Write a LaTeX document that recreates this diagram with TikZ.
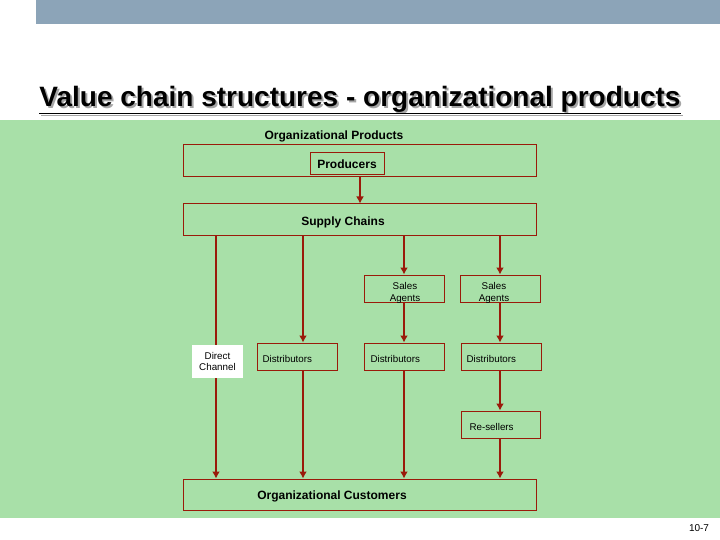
\documentclass[tikz,border=0pt]{standalone}
\usepackage{fontspec}
\usetikzlibrary{arrows.meta}
\setmainfont{Liberation Sans}
\definecolor{bg}{HTML}{A8E0A8}
\definecolor{dr}{HTML}{9A1A0A}
\definecolor{bar}{HTML}{8CA4B8}
\begin{document}
\begin{tikzpicture}[x=1pt,y=-1pt,
  bx/.style={draw=dr,line width=1pt,inner sep=0pt},
  ar/.style={draw=dr,line width=2.2pt,-{Latex[length=7pt,width=8pt]}},
  bl/.style={font=\bfseries\fontsize{12}{14}\selectfont},
  sm/.style={font=\fontsize{9.8}{11.5}\selectfont,align=center}]
\useasboundingbox (0,0) rectangle (720,540);
\fill[white] (0,0) rectangle (720,540);
\fill[bar] (36,0) rectangle (720,24);
\fill[bg] (0,120) rectangle (720,518);
\node[text=gray!70,font=\bfseries\fontsize{28}{32}\selectfont] at (362,102) {\underline{Value chain structures - organizational products}};
\node (title) [font=\bfseries\fontsize{28}{32}\selectfont] at (360,100) {\underline{Value chain structures - organizational products}};
\node (op) [bl] at (334,136) {Organizational Products};
\node (prodo) [bx,minimum width=353,minimum height=32] at (359.5,161) {};
\node (prod) [bx,bl,minimum width=74,minimum height=22] at (347,164) {Producers};
\node (sc) [bx,minimum width=353,minimum height=31] at (359.5,219.5) {};
\node at (343,222) [bl] {Supply Chains};
\node (sa1) [bx,minimum width=80,minimum height=27] at (404,288.5) {};
\node[sm] at (405,293) {Sales\\Agents};
\node (sa2) [bx,minimum width=80,minimum height=27] at (500,288.5) {};
\node[sm] at (494,293) {Sales\\Agents};
\node (d1) [bx,minimum width=80,minimum height=27] at (297,356.5) {};
\node[sm,anchor=west] at (259,359) {Distributors};
\node (d2) [bx,minimum width=80,minimum height=27] at (404,356.5) {};
\node[sm,anchor=west] at (367,359) {Distributors};
\node (d3) [bx,minimum width=80,minimum height=27] at (501,356.5) {};
\node[sm,anchor=west] at (463,359) {Distributors};
\node (rs) [bx,minimum width=79,minimum height=27] at (500.5,424.5) {};
\node[sm,anchor=west] at (466,427) {Re-sellers};
\node (cu) [bx,minimum width=353,minimum height=31] at (359.5,494.5) {};
\node at (332,496) [bl] {Organizational Customers};
\draw[ar] (360,177) -- (sc.north -| 360,0);
\draw[ar] (216,235) -- (cu.north -| 216,0);
\node (dc) [fill=white,minimum width=51,minimum height=33,inner sep=0pt,sm] at (217.5,361.5) {Direct\\Channel};
\draw[ar] (303,235) -- (d1.north -| 303,0);
\draw[ar] (303,370) -- (cu.north -| 303,0);
\draw[ar] (404,235) -- (sa1.north);
\draw[ar] (sa1.south) -- (d2.north);
\draw[ar] (d2.south) -- (cu.north -| 404,0);
\draw[ar] (500,235) -- (sa2.north);
\draw[ar] (sa2.south) -- (d3.north -| 500,0);
\draw[ar] (500,370) -- (rs.north -| 500,0);
\draw[ar] (rs.south -| 500,0) -- (cu.north -| 500,0);
\node (pg) [font=\fontsize{10}{12}\selectfont] at (699,528) {10-7};
\end{tikzpicture}
\end{document}
